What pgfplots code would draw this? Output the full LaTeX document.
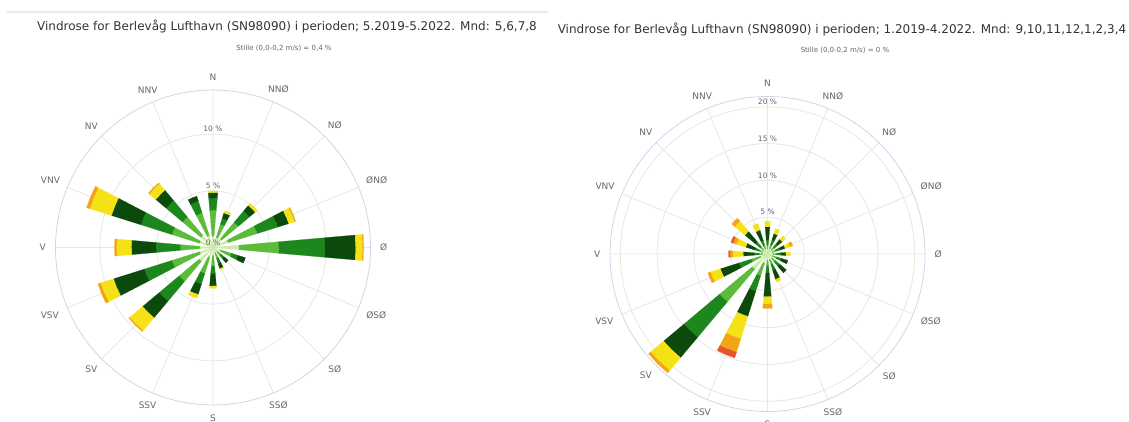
\documentclass[border=0pt]{standalone}
\usepackage{pgfplots}
\pgfplotsset{compat=1.18}
\usepgfplotslibrary{polar}
\usepackage{fontspec}
\setmainfont{DejaVu Sans}

\definecolor{wc1}{HTML}{CDEBA8}
\definecolor{wc2}{HTML}{5DBB3A}
\definecolor{wc3}{HTML}{1C871C}
\definecolor{wc4}{HTML}{0B4A0B}
\definecolor{wc5}{HTML}{F5E216}
\definecolor{wc6}{HTML}{F4A516}
\definecolor{wc7}{HTML}{E5562A}
\definecolor{gridc}{HTML}{E6E6E6}
\definecolor{axisc}{HTML}{CCD6EB}
\definecolor{labc}{HTML}{666666}
\definecolor{titc}{HTML}{333333}
\definecolor{topline}{HTML}{E4ECE6}

% one stacked segment of a wind-rose column: bearing, r0, r1, colour
\newcommand\rosewedge[4]{%
  \pgfmathsetmacro\rwA{90-#1-5}%
  \pgfmathsetmacro\rwM{90-#1}%
  \pgfmathsetmacro\rwB{90-#1+5}%
  \ifdim #3pt>#2pt
    \edef\rwtmp{\noexpand\addplot[draw=#4,line width=0.2pt,fill=#4,forget plot] coordinates {(\rwA,#2) (\rwA,#3) (\rwM,#3) (\rwB,#3) (\rwB,#2) (\rwM,#2)};}%
    \rwtmp
  \fi
}
% bearing followed by the cumulative tops of the seven speed classes (%)
\newcommand\rosebar[8]{%
  \rosewedge{#1}{0}{#2}{wc1}%
  \rosewedge{#1}{#2}{#3}{wc2}%
  \rosewedge{#1}{#3}{#4}{wc3}%
  \rosewedge{#1}{#4}{#5}{wc4}%
  \rosewedge{#1}{#5}{#6}{wc5}%
  \rosewedge{#1}{#6}{#7}{wc6}%
  \rosewedge{#1}{#7}{#8}{wc7}%
}
% direction names round a rose: centre x, centre y, radius
\newcommand\dirlabels[3]{%
  \foreach \ang/\lab in {90/N,67.5/NNØ,45/NØ,22.5/ØNØ,0/Ø,-22.5/ØSØ,-45/SØ,-67.5/SSØ,-90/S,-112.5/SSV,-135/SV,-157.5/VSV,180/V,157.5/VNV,135/NV,112.5/NNV}{%
    \pgfmathtruncatemacro\anc{mod(\ang+540,360)}%
    \node[font=\fontsize{9}{10}\selectfont,text=labc,inner sep=0pt,anchor=\anc] at ([shift={(\ang:#3)}]#1,#2) {\lab};
  }%
}

\pgfplotsset{rose/.style={
  anchor=center, width=315pt, height=315pt, scale only axis,
  xmin=0, xmax=360, ymin=0,
  xtick={0,22.5,...,337.5},
  xticklabels={}, yticklabels={},
  xmajorgrids, ymajorgrids,
  major grid style={draw=gridc, line width=0.8pt},
  axis line style={draw=axisc, line width=0.8pt},
  y axis line style={draw=none},
  major tick length=0pt,
  clip=false,
}}

\begin{document}
\begin{tikzpicture}[x=1pt,y=1pt]
\path[use as bounding box] (0,0) rectangle (1129,-422);
\draw[color=topline, line width=2pt] (7,-12) -- (548,-12);

\node[font=\fontsize{12}{14}\selectfont,text=titc] at (287,-26) {Vindrose for Berlevåg Lufthavn (SN98090) i perioden; 5.2019-5.2022. Mnd: 5,6,7,8};
\node[font=\fontsize{7}{8}\selectfont,text=labc] at (284,-48) {Stille (0,0-0,2 m/s) = 0,4 \%};
\node[font=\fontsize{12}{14}\selectfont,text=titc] at (842,-29) {Vindrose for Berlevåg Lufthavn (SN98090) i perioden; 1.2019-4.2022. Mnd: 9,10,11,12,1,2,3,4};
\node[font=\fontsize{7}{8}\selectfont,text=labc] at (845,-50) {Stille (0,0-0,2 m/s) = 0 \%};

% ---------- left rose: months 5-8 ----------
\begin{polaraxis}[rose, at={(213pt,-247.5pt)}, ymax=13.9, ytick={5,10}]
\rosebar{0}{1.0}{3.3}{4.35}{4.85}{5.0}{5.0}{5.0}
\rosebar{22.5}{0.9}{2.15}{2.7}{3.2}{3.4}{3.4}{3.4}
\rosebar{45}{1.0}{2.9}{4.2}{4.85}{5.1}{5.1}{5.1}
\rosebar{67.5}{1.4}{4.1}{6.0}{7.0}{7.55}{7.65}{7.65}
\rosebar{90}{2.3}{5.8}{9.9}{12.6}{13.2}{13.3}{13.3}
\rosebar{112.5}{0.7}{1.7}{2.3}{3.0}{3.0}{3.0}{3.0}
\rosebar{135}{0.5}{0.9}{1.3}{1.75}{1.75}{1.75}{1.75}
\rosebar{157.5}{0.5}{1.0}{1.5}{1.95}{2.07}{2.07}{2.07}
\rosebar{180}{0.7}{1.6}{2.3}{3.4}{3.6}{3.6}{3.6}
\rosebar{202.5}{0.9}{2.4}{3.4}{4.35}{4.7}{4.7}{4.7}
\rosebar{225}{1.6}{3.9}{6.2}{8.1}{9.6}{9.7}{9.7}
\rosebar{247.5}{1.24}{3.8}{6.35}{9.2}{10.4}{10.65}{10.65}
\rosebar{270}{1.15}{2.9}{5.0}{7.2}{8.5}{8.7}{8.7}
\rosebar{292.5}{1.24}{3.8}{6.67}{9.4}{11.4}{11.7}{11.7}
\rosebar{315}{1.4}{3.5}{5.4}{6.6}{7.35}{7.45}{7.45}
\rosebar{337.5}{1.1}{3.2}{4.3}{4.75}{4.75}{4.75}{4.75}
\node[font=\fontsize{7.5}{9}\selectfont,text=labc,inner sep=0pt,anchor=south,yshift=2pt] at (axis cs:90,0) {0 \%};
\node[font=\fontsize{7.5}{9}\selectfont,text=labc,inner sep=0pt,anchor=south,yshift=2pt] at (axis cs:90,5) {5 \%};
\node[font=\fontsize{7.5}{9}\selectfont,text=labc,inner sep=0pt,anchor=south,yshift=2pt] at (axis cs:90,10) {10 \%};
\end{polaraxis}
\dirlabels{213}{-247.5}{167}

% ---------- right rose: months 9-4 ----------
\begin{polaraxis}[rose, at={(767.5pt,-254pt)}, ymax=21.4, ytick={5,10,15,20}]
\rosebar{0}{0.7}{1.2}{1.9}{3.7}{4.45}{4.45}{4.45}
\rosebar{22.5}{0.7}{1.3}{2.0}{2.9}{3.6}{3.6}{3.6}
\rosebar{45}{0.7}{1.2}{1.8}{2.6}{3.2}{3.2}{3.2}
\rosebar{67.5}{0.7}{1.2}{1.8}{2.5}{3.2}{3.6}{3.6}
\rosebar{90}{0.7}{1.2}{1.8}{2.5}{3.1}{3.1}{3.1}
\rosebar{112.5}{0.7}{1.3}{2.0}{2.9}{2.9}{2.9}{2.9}
\rosebar{135}{0.8}{1.4}{2.2}{3.35}{3.35}{3.35}{3.35}
\rosebar{157.5}{0.8}{1.5}{2.3}{3.6}{4.0}{4.0}{4.0}
\rosebar{180}{0.8}{1.6}{2.5}{5.8}{6.8}{7.4}{7.4}
\rosebar{202.5}{1.3}{3.1}{5.3}{8.9}{12.1}{14.0}{14.8}
\rosebar{225}{2.7}{8.5}{14.8}{18.4}{20.7}{21.1}{21.1}
\rosebar{247.5}{1.0}{2.3}{4.05}{6.7}{8.1}{8.5}{8.5}
\rosebar{270}{0.6}{1.1}{1.8}{3.3}{4.7}{5.1}{5.3}
\rosebar{292.5}{0.7}{1.2}{1.8}{3.1}{4.4}{4.9}{5.2}
\rosebar{315}{0.7}{1.3}{2.1}{4.0}{5.8}{6.35}{6.35}
\rosebar{337.5}{0.7}{1.2}{1.9}{3.4}{4.35}{4.35}{4.35}
\node[font=\fontsize{7.5}{9}\selectfont,text=labc,inner sep=0pt,anchor=south,yshift=2pt] at (axis cs:90,5) {5 \%};
\node[font=\fontsize{7.5}{9}\selectfont,text=labc,inner sep=0pt,anchor=south,yshift=2pt] at (axis cs:90,10) {10 \%};
\node[font=\fontsize{7.5}{9}\selectfont,text=labc,inner sep=0pt,anchor=south,yshift=2pt] at (axis cs:90,15) {15 \%};
\node[font=\fontsize{7.5}{9}\selectfont,text=labc,inner sep=0pt,anchor=south,yshift=2pt] at (axis cs:90,20) {20 \%};
\end{polaraxis}
\dirlabels{767.5}{-254}{167}
\end{tikzpicture}
\end{document}
